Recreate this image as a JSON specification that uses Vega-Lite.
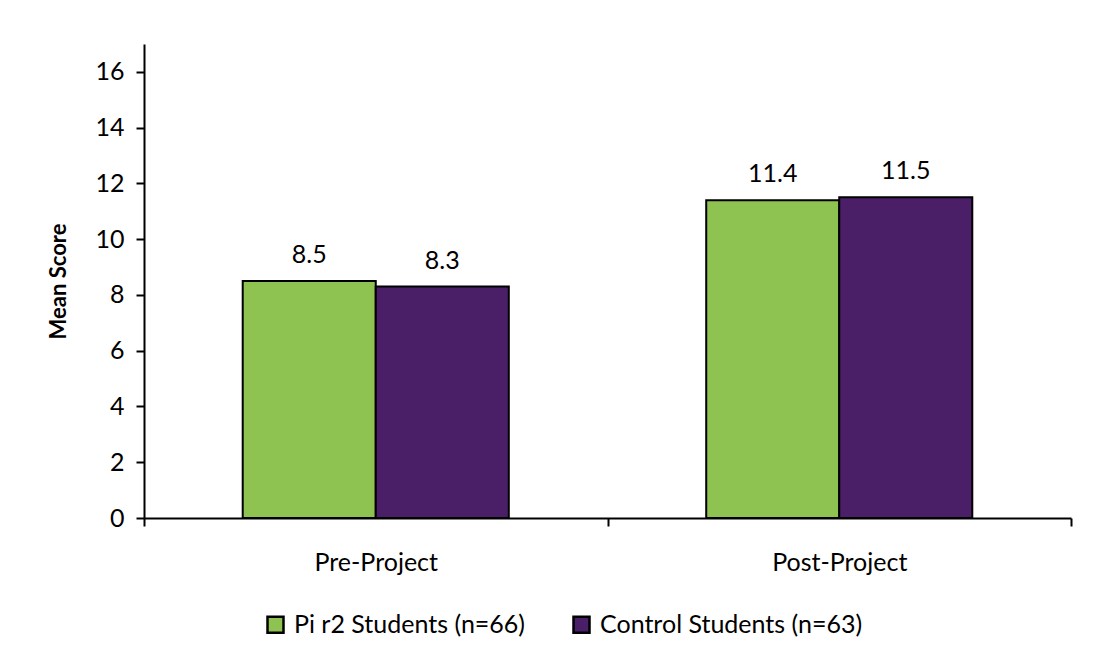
{
  "$schema": "https://vega.github.io/schema/vega-lite/v6.json",
  "width": 927,
  "height": 474,
  "autosize": {"type": "none"},
  "padding": {"left": 144, "top": 44, "right": 28, "bottom": 145},
  "background": "white",
  "data": {"values": [
    {"phase": "Pre-Project", "group": "Pi r2 Students (n=66)", "score": 8.5},
    {"phase": "Pre-Project", "group": "Control Students (n=63)", "score": 8.3},
    {"phase": "Post-Project", "group": "Pi r2 Students (n=66)", "score": 11.4},
    {"phase": "Post-Project", "group": "Control Students (n=63)", "score": 11.5}
  ]},
  "encoding": {
    "x": {"field": "phase", "type": "nominal", "sort": ["Pre-Project", "Post-Project"],
      "scale": {"paddingInner": 0, "paddingOuter": 0},
      "axis": {"title": null, "labelAngle": 0, "tickBand": "extent", "tickSize": 8, "tickWidth": 2, "tickColor": "black", "domainColor": "black", "domainWidth": 2, "labelPadding": 24, "labelFontSize": 25, "labelColor": "black", "labelFont": "Lato"}},
    "xOffset": {"field": "group", "type": "nominal", "sort": ["Pi r2 Students (n=66)", "Control Students (n=63)"],
      "scale": {"paddingInner": 0, "paddingOuter": 0.742}},
    "y": {"field": "score", "type": "quantitative",
      "scale": {"domain": [0, 17], "nice": false},
      "axis": {"title": "Mean Score", "titleFont": "Lato", "titleFontSize": 22, "titleFontWeight": "bold", "titleColor": "black", "titlePadding": 24, "values": [0, 2, 4, 6, 8, 10, 12, 14, 16], "grid": false, "tickSize": 8, "tickWidth": 2, "tickColor": "black", "domainColor": "black", "domainWidth": 2, "labelPadding": 12, "labelFontSize": 25, "labelColor": "black", "labelFont": "Lato"}}
  },
  "layer": [
    {
      "mark": {"type": "bar", "stroke": "black", "strokeWidth": 2, "width": {"band": 1}},
      "encoding": {
        "color": {"field": "group", "type": "nominal", "sort": ["Pi r2 Students (n=66)", "Control Students (n=63)"],
          "scale": {"range": ["#8FC351", "#4B1F68"]},
          "legend": {"title": null, "orient": "none", "direction": "horizontal", "legendX": 119, "legendY": 568, "symbolType": "square", "symbolSize": 256, "symbolStrokeColor": "black", "symbolStrokeWidth": 2.5, "labelFontSize": 25, "labelFont": "Lato", "labelColor": "black", "labelLimit": 0, "columnPadding": 42, "labelOffset": 6}}
      }
    },
    {
      "mark": {"type": "text", "baseline": "alphabetic", "dy": -18, "fontSize": 25, "font": "Lato", "color": "black"},
      "encoding": {"text": {"field": "score", "type": "quantitative", "format": ".1f"}}
    }
  ],
  "config": {"view": {"stroke": null}}
}
